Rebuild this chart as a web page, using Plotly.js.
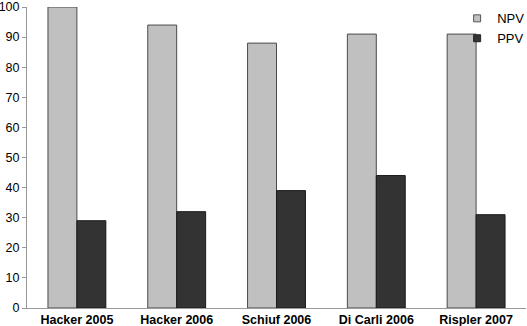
<!DOCTYPE html>
<html>
<head>
<script src="https://cdn.plot.ly/plotly-3.0.1.min.js"></script>
<style>html,body{margin:0;padding:0;background:#fff}#chart{width:527px;height:326px}</style>
</head>
<body>
<div id="chart"></div>
<script>
var categories = ["Hacker 2005", "Hacker 2006", "Schiuf 2006", "Di Carli 2006", "Rispler 2007"];
var npv = [100, 94, 88, 91, 91];
var ppv = [29, 32, 39, 44, 31];
var yTicks = [0, 10, 20, 30, 40, 50, 60, 70, 80, 90, 100];
var seriesNames = ["NPV", "PPV"];
var seriesColors = ["#c0c0c0", "#333333"];

var traces = [
  {type: "bar", name: seriesNames[0], x: categories, y: npv, showlegend: false, legendgroup: "a",
   marker: {color: seriesColors[0], line: {color: "#4a4a4a", width: 1}}},
  {type: "bar", name: seriesNames[1], x: categories, y: ppv, showlegend: false, legendgroup: "b",
   marker: {color: seriesColors[1], line: {color: "#1a1a1a", width: 1}}},
  {type: "scatter", mode: "markers", name: seriesNames[0], x: [null], y: [null], legendgroup: "a",
   marker: {symbol: "square", size: 7, color: seriesColors[0], line: {color: "#555555", width: 1}}},
  {type: "scatter", mode: "markers", name: seriesNames[1], x: [null], y: [null], legendgroup: "b",
   marker: {symbol: "square", size: 7, color: seriesColors[1], line: {color: "#222222", width: 1}}}
];

var layout = {
  width: 527, height: 326,
  margin: {l: 27, r: 1, t: 7, b: 18, autoexpand: false},
  barmode: "group",
  bargap: 0.42,
  bargroupgap: 0,
  paper_bgcolor: "#ffffff",
  plot_bgcolor: "#ffffff",
  font: {family: "Liberation Sans, Arial, sans-serif", size: 13, color: "#000"},
  xaxis: {
    type: "category", automargin: false,
    showline: true, linecolor: "#999999", linewidth: 1,
    ticks: "", showgrid: false, zeroline: false,
    tickfont: {family: "Liberation Sans, Arial, sans-serif", size: 12.5, color: "#000", weight: "bold"}
  },
  yaxis: {
    automargin: false,
    range: [0, 100], tickvals: yTicks, ticktext: yTicks.map(String),
    showline: true, linecolor: "#999999", linewidth: 1,
    ticks: "outside", ticklen: 4, tickcolor: "#999999",
    showgrid: false, zeroline: false,
    tickfont: {size: 12.5, color: "#000"}
  },
  showlegend: true,
  legend: {x: 0.862, y: 1.012, xanchor: "left", yanchor: "top",
           font: {size: 13, color: "#000"}, bgcolor: "rgba(0,0,0,0)",
           tracegroupgap: 0}
};

Plotly.newPlot("chart", traces, layout, {displayModeBar: false, staticPlot: true});
</script>
</body>
</html>
